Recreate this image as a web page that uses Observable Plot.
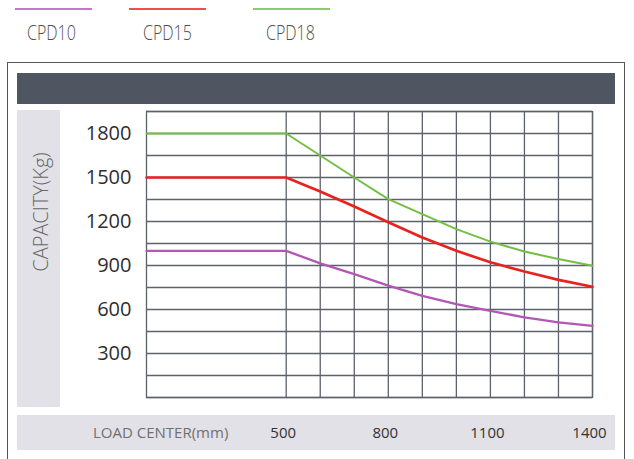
<!DOCTYPE html>
<html>
<head>
<meta charset="utf-8">
<script src="https://cdn.jsdelivr.net/npm/d3@7"></script>
<script src="https://cdn.jsdelivr.net/npm/@observablehq/plot@0.6"></script>
<style>
  html, body { margin: 0; padding: 0; background: #ffffff; }
  #page { position: relative; width: 634px; height: 459px; overflow: hidden; font-family: "Open Sans", sans-serif; }
  .abs { position: absolute; }
  .legline { position: absolute; height: 2px; top: 8px; }
  .legtext { position: absolute; top: 23px; font-size: 20px; line-height: 20px; color: #505050; font-weight: 300; transform-origin: left center; transform: scaleX(0.8); white-space: nowrap; }
  #box { left: 7px; top: 62px; width: 618px; height: 420px; border: 1.5px solid #555; box-sizing: border-box; }
  #bar { left: 17px; top: 72.5px; width: 598px; height: 31.5px; background: #4f5661; }
  #yband { left: 17px; top: 110px; width: 43px; height: 297px; background: #e1e1e7; }
  #xband { left: 17px; top: 415px; width: 598px; height: 35px; background: #e1e1e7; }
  #ylab { left: -59px; top: 200px; width: 200px; height: 24px; line-height: 24px; text-align: center; font-size: 20px; color: #666; font-weight: 300; transform: rotate(-90deg); white-space: nowrap; }
  #xlab { left: 93px; top: 425px; font-size: 15px; line-height: 15px; color: #707070; white-space: nowrap; }
  #chart { position: absolute; left: 0; top: 0; }
</style>
</head>
<body>
<div id="page">
  <div id="legend"></div>
  <div class="abs" id="box"></div>
  <div class="abs" id="bar"></div>
  <div class="abs" id="yband"></div>
  <div class="abs" id="xband"></div>
  <div class="abs" id="ylab">CAPACITY(Kg)</div>
  <div class="abs" id="xlab">LOAD CENTER(mm)</div>
  <div id="chart"></div>
</div>
<script>
// ---- data ----
const seriesNames = ["CPD10", "CPD15", "CPD18"];
const seriesColors = ["#b157b5", "#e8231f", "#72bf44"];
const seriesWidths = [2.3, 2.7, 2];
const loadCenter = [0, 500, 600, 700, 800, 900, 1000, 1100, 1200, 1300, 1400];
const cpd10 = [1000, 1000, 914, 841, 763, 693, 637, 591, 546, 512, 489];
const cpd15 = [1500, 1500, 1405, 1302, 1195, 1091, 1000, 922, 859, 802, 755];
const cpd18 = [1800, 1800, 1650, 1500, 1352, 1250, 1148, 1063, 995, 944, 898];
const xTicks = [500, 800, 1100, 1400];
const xGrid = [500, 600, 700, 800, 900, 1000, 1100, 1200, 1300, 1400];
const yTicks = [300, 600, 900, 1200, 1500, 1800];
const yGrid = [0, 150, 300, 450, 600, 750, 900, 1050, 1200, 1350, 1500, 1650, 1800, 1950];

// ---- legend ----
const legend = document.getElementById("legend");
const legLeft = [15, 129, 253];
const legTextLeft = [27, 143, 266];
seriesNames.forEach((name, i) => {
  const l = document.createElement("div");
  l.className = "legline";
  l.style.left = legLeft[i] + "px";
  l.style.width = "77px";
  l.style.backgroundColor = seriesColors[i];
  l.style.opacity = "0.8";
  legend.appendChild(l);
  const t = document.createElement("div");
  t.className = "legtext";
  t.style.left = legTextLeft[i] + "px";
  t.textContent = name;
  legend.appendChild(t);
});

// ---- chart ----
const seriesValues = [cpd10, cpd15, cpd18];
const rows = seriesValues.map(vals => loadCenter.map((x, j) => ({x, y: vals[j]})));
const gridColor = "#5d6169";

const lineMarks = seriesValues.map((_, i) =>
  Plot.line(rows[i], {x: "x", y: "y", stroke: seriesColors[i], strokeWidth: seriesWidths[i], curve: "linear"})
);

const chart = Plot.plot({
  width: 634,
  height: 459,
  marginLeft: 146,
  marginRight: 42,
  marginTop: 111,
  marginBottom: 62,
  style: {background: "transparent", fontFamily: "Open Sans", color: "#333"},
  x: {type: "linear", domain: [0, 500, 1400], range: [146, 285.7, 592], label: null},
  y: {domain: [0, 1950], label: null},
  marks: [
    Plot.ruleY(yGrid, {stroke: gridColor, strokeWidth: 1.3}),
    Plot.ruleX(xGrid, {stroke: gridColor, strokeWidth: 1.3}),
    Plot.frame({stroke: gridColor, strokeWidth: 1.3}),
    ...lineMarks,
    Plot.axisY(yTicks, {tickSize: 0, tickPadding: 15, fontSize: 20, fill: "#2e2e2e", label: null, tickFormat: d => String(d)}),
    Plot.axisX(xTicks, {tickSize: 0, tickPadding: 30, fontSize: 15, fontWeight: 500, fill: "#333", label: null, dx: -3, tickFormat: d => String(d)})
  ]
});
document.getElementById("chart").appendChild(chart);
</script>
</body>
</html>
